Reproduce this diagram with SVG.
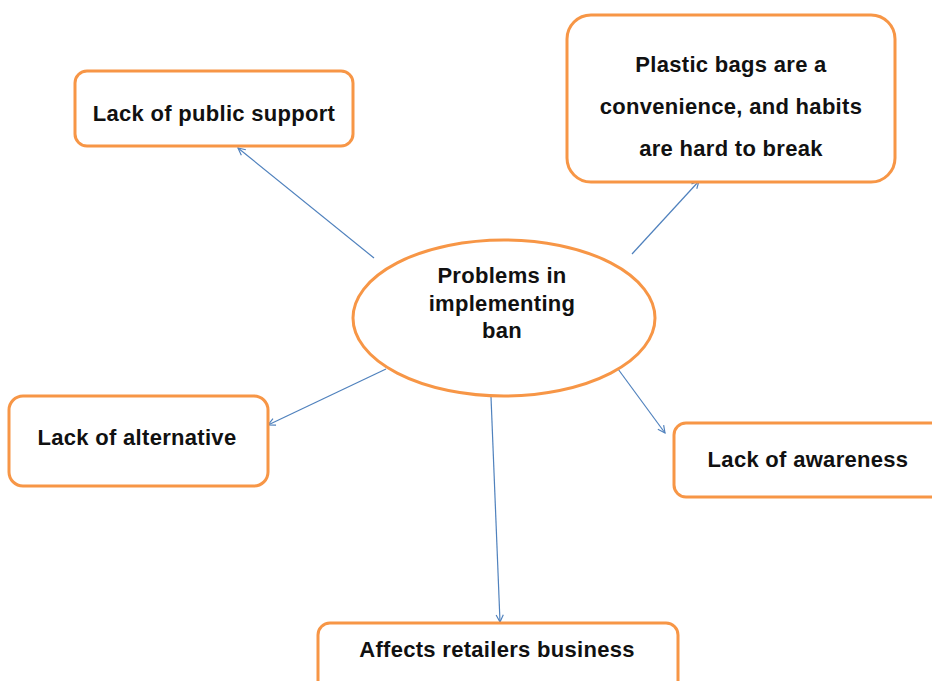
<svg xmlns="http://www.w3.org/2000/svg" width="932" height="681" viewBox="0 0 932 681">
<style>
.box{fill:#fff;stroke:#F79646;stroke-width:3}
.t{font-family:"Liberation Sans",Arial,sans-serif;font-weight:bold;font-size:22px;letter-spacing:0.3px;fill:#111;text-anchor:middle;dominant-baseline:central}
.c{stroke:#4F81BD;stroke-width:1.2;fill:none;marker-end:url(#ah)}
</style>
<defs>
<marker id="ah" viewBox="0 0 10 10" refX="9" refY="5" markerWidth="9" markerHeight="9" markerUnits="userSpaceOnUse" orient="auto">
<path d="M1,1 L9,5 L1,9" fill="none" stroke="#4F81BD" stroke-width="1.3"/>
</marker>
</defs>
<rect width="932" height="681" fill="#fff"/>
<g id="connectors">
<line class="c" x1="374" y1="258" x2="238" y2="148"/>
<line class="c" x1="632" y1="254" x2="699" y2="181"/>
<line class="c" x1="386" y1="369" x2="268" y2="425"/>
<line class="c" x1="618" y1="369" x2="665" y2="433"/>
<line class="c" x1="491" y1="397" x2="500" y2="622"/>
</g>
<g id="center">
<ellipse class="box" cx="504" cy="318" rx="151" ry="78"/>
<text class="t" x="502" y="275">Problems in</text>
<text class="t" x="502" y="303">implementing</text>
<text class="t" x="502" y="330">ban</text>
</g>
<g id="public-support">
<rect class="box" x="75" y="71" width="278" height="75" rx="12"/>
<text class="t" x="214" y="113">Lack of public support</text>
</g>
<g id="plastic-bags">
<rect class="box" x="567" y="15" width="328" height="167" rx="24"/>
<text class="t" x="731" y="64">Plastic bags are a</text>
<text class="t" x="731" y="106">convenience, and habits</text>
<text class="t" x="731" y="148">are hard to break</text>
</g>
<g id="alternative">
<rect class="box" x="9" y="396" width="259" height="90" rx="14"/>
<text class="t" x="137" y="437">Lack of alternative</text>
</g>
<g id="awareness">
<rect class="box" x="674" y="423" width="275" height="74" rx="12"/>
<text class="t" x="808" y="459">Lack of awareness</text>
</g>
<g id="retailers">
<rect class="box" x="318" y="623" width="360" height="80" rx="12"/>
<text class="t" x="497" y="649">Affects retailers business</text>
</g>
</svg>
